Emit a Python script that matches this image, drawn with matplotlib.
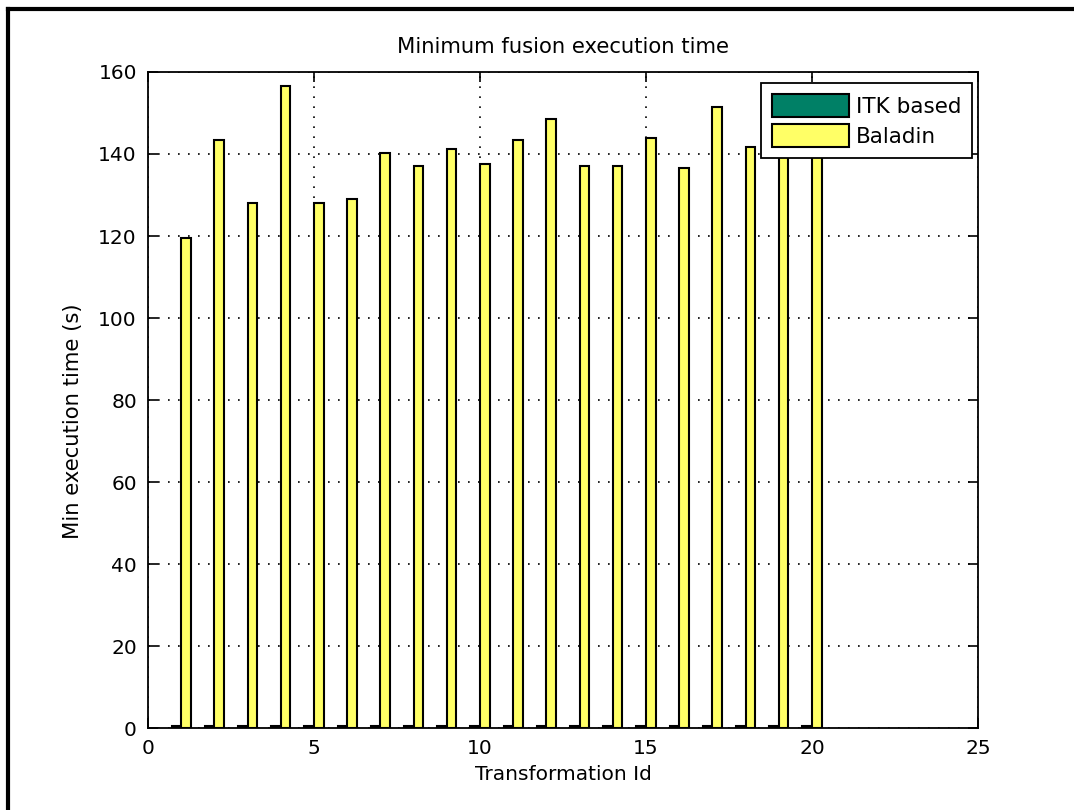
import numpy as np
import matplotlib
matplotlib.use("Agg")
import matplotlib.pyplot as plt
from matplotlib.lines import Line2D

# Minimum fusion execution time per transformation
transform_ids = list(range(1, 21))
itk_based = [0.4] * 20
baladin = [119.5, 143.5, 128.0, 156.6, 128.0, 129.0, 140.2, 137.0, 141.2, 137.5,
           143.5, 148.6, 137.0, 137.0, 144.0, 136.5, 151.4, 141.6, 142.0, 141.0]

series_names = ["ITK based", "Baladin"]
colors = [(0.0, 0.5, 0.4), (1.0, 1.0, 0.4)]

xticks = [0, 5, 10, 15, 20, 25]
yticks = [0, 20, 40, 60, 80, 100, 120, 140, 160]

plt.rcParams["font.family"] = ["DejaVu Sans"]
FS = 14.5
LFS = 15.2

fig = plt.figure(figsize=(10.74, 8.10), dpi=100)
W, H = 1074, 810
ax = fig.add_axes([148 / W, 1 - 728 / H, (978 - 148) / W, (728 - 72) / H])

x = np.array(transform_ids, dtype=float)
bw = 0.29
for i, (vals, name, c) in enumerate(zip([itk_based, baladin], series_names, colors)):
    ax.bar(x + (i - 0.5) * bw, vals, width=bw, color=c, edgecolor="black",
           linewidth=1.5, label=name, zorder=3)

ax.set_xlim(0, 25)
ax.set_ylim(0, 160)
ax.set_xticks(xticks)
ax.set_yticks(yticks)
ax.tick_params(direction="in", length=7, width=1.2, top=True, right=True,
               labelsize=FS, pad=8, colors="black")
for s in ax.spines.values():
    s.set_linewidth(1.3)
ax.grid(True, linestyle=(0, (1, 5)), color="black", linewidth=1.2, zorder=1)
ax.set_axisbelow(True)

ax.set_title("Minimum fusion execution time", fontsize=LFS, pad=14)
ax.set_xlabel("Transformation Id", fontsize=FS, labelpad=5)
ax.set_ylabel("Min execution time (s)", fontsize=LFS)
ax.yaxis.set_label_coords(-(148 - 83) / 830, 0.468)

leg = ax.legend(loc="upper right", bbox_to_anchor=(1 - 6 / 830, 1 - 11 / 656),
                fontsize=15.5, frameon=True, fancybox=False, framealpha=1,
                edgecolor="black", handlelength=3.55, handleheight=1.3,
                borderpad=0.5, labelspacing=0.3, handletextpad=0.33,
                borderaxespad=0.0)
leg.get_frame().set_linewidth(1.3)
leg.set_zorder(10)

# outer figure frame
fig.add_artist(Line2D([8 / W, 8 / W], [0, 1 - 9 / H], color="black",
                      linewidth=3, transform=fig.transFigure))
fig.add_artist(Line2D([8 / W, 1], [1 - 9 / H, 1 - 9 / H], color="black",
                      linewidth=3, transform=fig.transFigure))

fig.savefig("out.png", dpi=100, facecolor="white")
